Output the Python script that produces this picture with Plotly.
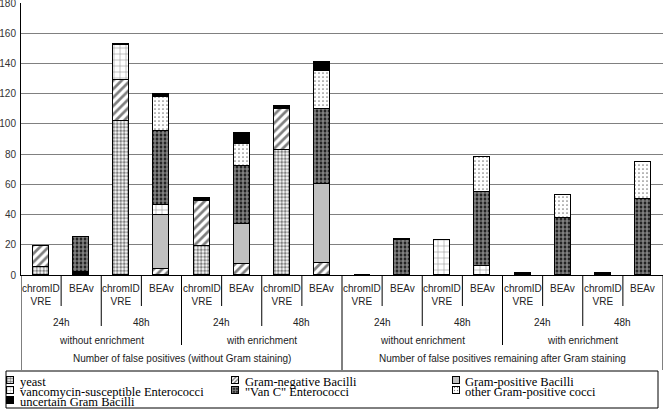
import plotly.graph_objects as go

# ---------------- data ----------------
media = ["chromID<br>VRE", "BEAv"] * 8
times = ["24h", "48h"] * 4
enrich = ["without enrichment", "with enrichment"] * 2
groups = ["Number of false positives (without Gram staining)",
          "Number of false positives remaining after Gram staining"]

yeast = [5, 0, 102, 0, 19, 0, 83, 0, 0, 0, 0, 0, 0, 0, 0, 0]
gram_neg = [14, 0, 27, 4, 30, 7, 27, 8, 0, 0, 0, 0, 0, 0, 0, 0]
gram_pos = [0, 0, 0, 36, 0, 27, 0, 52, 0, 0, 0, 0, 0, 0, 0, 0]
vanco_susc = [0, 0, 23, 6, 0, 0, 0, 0, 0, 0, 23, 6, 0, 0, 0, 0]
van_c = [0, 23, 0, 49, 0, 38, 0, 50, 0, 23, 0, 49, 0, 38, 0, 50]
other_cocci = [0, 0, 0, 23, 0, 15, 0, 25, 0, 0, 0, 23, 0, 15, 0, 25]
uncertain = [0, 0, 1, 2, 2, 7, 2, 6, 0, 1, 0, 0, 1, 0, 1, 0]
uncertain_base = [0, 2, 0, 0, 0, 0, 0, 0, 0, 0, 0, 0, 0, 0, 0, 0]

# ---------------- layout constants (pixels) ----------------
W, H = 664, 410
PL, PR, PT, PB = 21, 663, 3, 275          # plot area
LEG_BOX = (6, 371, 658, 408)              # legend frame
LEG_COLS_SW = [7, 232, 453]               # swatch left edges
LEG_COLS_TX = [19, 244, 464]              # text left edges
LEG_ROWS = [380.5, 390.5, 400.5]          # row centers
SW = 7                                    # swatch size
LEG_PITCH = 10


def fy(pix):
    return (H - pix) / H


def fx(pix):
    return pix / W


BLACK = "#000000"
xs = list(range(len(media)))

series = [
    ("yeast", yeast, dict(fillmode="overlay", shape=".", fgcolor=BLACK, bgcolor="white", size=3.5, solidity=0.55), "white"),
    ("Gram-negative Bacilli", gram_neg, dict(fillmode="overlay", shape="/", fgcolor=BLACK, bgcolor="white", size=6, solidity=0.45), "white"),
    ("Gram-positive Bacilli", gram_pos, None, "#c0c0c0"),
    ("vancomycin-susceptible Enterococci", vanco_susc, dict(fillmode="overlay", shape="+", fgcolor=BLACK, bgcolor="white", size=6, solidity=0.15), "white"),
    ('"Van C" Enterococci', van_c, dict(fillmode="overlay", shape=".", fgcolor="white", bgcolor=BLACK, size=4, solidity=0.7), BLACK),
    ("other Gram-positive cocci", other_cocci, dict(fillmode="overlay", shape=".", fgcolor=BLACK, bgcolor="white", size=4, solidity=0.15), "white"),
    ("uncertain Gram Bacilli", uncertain, None, BLACK),
]


def marker_for(pat, col):
    m = dict(color=col, line=dict(color=BLACK, width=1))
    if pat:
        m["pattern"] = pat
    return m


fig = go.Figure()
# black base segment of the second bar (sits below the other segments)
fig.add_trace(go.Bar(x=xs, y=uncertain_base, width=0.4, marker=marker_for(None, BLACK),
                     showlegend=False, hoverinfo="skip"))
for name, vals, pat, col in series:
    fig.add_trace(go.Bar(x=xs, y=vals, width=0.4, name=name, marker=marker_for(pat, col),
                         showlegend=False))

# ---------------- compact legend (key swatches on a helper axis) ----------------
ann = []
columns = {0: [], 1: [], 2: []}
for i, (name, vals, pat, col) in enumerate(series):
    c, r = i % 3, i // 3
    fig.add_trace(go.Bar(x=[SW], base=[LEG_COLS_SW[c]], y=[LEG_ROWS[r]], width=SW, orientation="h",
                         marker=dict(color=col, line=dict(color=BLACK, width=1),
                                     **({"pattern": dict(pat, size=3)} if pat else {})),
                         xaxis="x2", yaxis="y2", showlegend=False, hoverinfo="skip"))
    columns[c].append(name)

base_size = LEG_PITCH / 1.3
for c, names in columns.items():
    txt = "<br>".join('<span style="font-size:12.5px">%s</span>' % n for n in names)
    ann.append(dict(x=fx(LEG_COLS_TX[c]), y=fy(LEG_ROWS[0] - LEG_PITCH / 2 - 1.5), xref="paper", yref="paper",
                    text=txt, showarrow=False, xanchor="left", yanchor="top", align="left",
                    borderpad=0,
                    font=dict(family="Liberation Serif, Times New Roman", size=base_size, color=BLACK)))

# ---------------- hierarchical x labels ----------------
lab_font = dict(family="Liberation Sans, Arial", size=10, color="#222")
for i, m in enumerate(media):
    ann.append(dict(x=i, y=fy(281), xref="x", yref="paper", text=m, showarrow=False,
                    yanchor="top", font=lab_font))
for j, t in enumerate(times):
    ann.append(dict(x=2 * j + 0.5, y=fy(322), xref="x", yref="paper", text=t, showarrow=False,
                    yanchor="middle", font=lab_font))
for k, e in enumerate(enrich):
    ann.append(dict(x=4 * k + 1.5, y=fy(340), xref="x", yref="paper", text=e, showarrow=False,
                    yanchor="middle", font=lab_font))
for g, t in enumerate(groups):
    ann.append(dict(x=8 * g + 3.5, y=fy(358), xref="x", yref="paper", text=t, showarrow=False,
                    yanchor="middle", font=lab_font))

shapes = []
line_style = dict(color=BLACK, width=1)
for b in range(len(media) + 1):
    xb = b - 0.5
    if b % 8 == 0:
        bottom = 370
    elif b % 4 == 0:
        bottom = 345
    elif b % 2 == 0:
        bottom = 326
    else:
        bottom = 306
    shapes.append(dict(type="line", xref="x", yref="paper", x0=xb, x1=xb, y0=fy(PB), y1=fy(bottom),
                       line=line_style, layer="above"))
x0, y0, x1, y1 = LEG_BOX
shapes.append(dict(type="rect", xref="paper", yref="paper", x0=fx(x0), x1=fx(x1), y0=fy(y1), y1=fy(y0),
                   line=line_style, fillcolor="rgba(0,0,0,0)", layer="below"))

fig.update_layout(
    width=W, height=H,
    margin=dict(l=0, r=0, t=0, b=0, pad=0, autoexpand=False),
    barmode="stack",
    plot_bgcolor="white", paper_bgcolor="white",
    bargap=0,
    showlegend=False,
    xaxis=dict(domain=[fx(PL), fx(PR)], range=[-0.5, len(media) - 0.5], showticklabels=False,
               showgrid=False, zeroline=False, showline=True, linecolor=BLACK, linewidth=1,
               ticks="", fixedrange=True),
    yaxis=dict(domain=[fy(PB), fy(PT)], range=[0, 180], dtick=20, showgrid=True, gridcolor="#808080",
               gridwidth=1, zeroline=False, showline=True, linecolor=BLACK, linewidth=1, ticks="",
               tickfont=dict(family="Liberation Sans, Arial", size=10, color="#333"),
               ticklabelstandoff=2, ticklabeloverflow="allow", fixedrange=True),
    xaxis2=dict(domain=[0, 1], range=[0, W], visible=False, fixedrange=True),
    yaxis2=dict(domain=[fy(LEG_BOX[3]), fy(LEG_BOX[1])], range=[LEG_BOX[3], LEG_BOX[1]],
                visible=False, fixedrange=True),
    annotations=ann,
    shapes=shapes,
)

fig.write_html("out.html", config={"displayModeBar": False},
               post_script="document.body.style.margin='0';document.body.style.overflow='hidden';")
